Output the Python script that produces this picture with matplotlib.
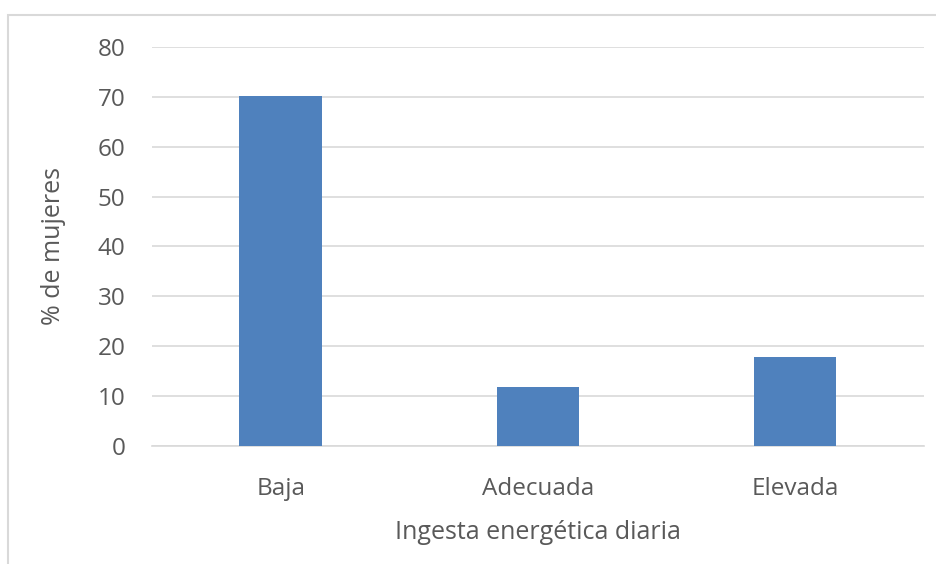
import matplotlib
matplotlib.use("Agg")
import matplotlib.pyplot as plt
import matplotlib.patches as patches

# porcentaje de mujeres por nivel de ingesta
categorias = ["Baja", "Adecuada", "Elevada"]
porcentajes = [70.1, 11.8, 17.8]
ticks_y = [0, 10, 20, 30, 40, 50, 60, 70, 80]

plt.rcParams['font.family'] = ['Open Sans', 'DejaVu Sans']
gris = "#595959"

fig = plt.figure(figsize=(9.36, 5.64), dpi=100)
ax = fig.add_axes([0.1624, 0.2092, 0.8246, 0.7075])

# marco exterior del grafico
marco = patches.Rectangle((8 / 936, -0.1), 1.1, 1 - 15 / 564 + 0.1, transform=fig.transFigure,
                          fill=False, edgecolor="#d9d9d9", linewidth=1.5)
fig.patches.append(marco)

x = range(len(categorias))
ax.bar(x, porcentajes, width=0.32, color="#4f81bd", zorder=3)

ax.set_xlim(-0.5, 2.5)
ax.set_ylim(0, 80)
ax.set_yticks(ticks_y)
ax.set_xticks(list(x))
ax.set_xticklabels(categorias)
ax.yaxis.grid(True, color="#d9d9d9", linewidth=1.2, zorder=0)
ax.set_axisbelow(True)
for s in ["top", "right", "left"]:
    ax.spines[s].set_visible(False)
ax.spines["bottom"].set_color("#d9d9d9")
ax.spines["bottom"].set_linewidth(1.2)
ax.tick_params(axis="both", length=0, labelsize=17.5, colors=gris)
ax.tick_params(axis="y", pad=19)
ax.tick_params(axis="x", pad=22)

ax.set_xlabel("Ingesta energética diaria", fontsize=18, color=gris, labelpad=14)
ax.set_ylabel("% de mujeres", fontsize=18, color=gris, labelpad=23)

fig.savefig("out.png", dpi=100)
